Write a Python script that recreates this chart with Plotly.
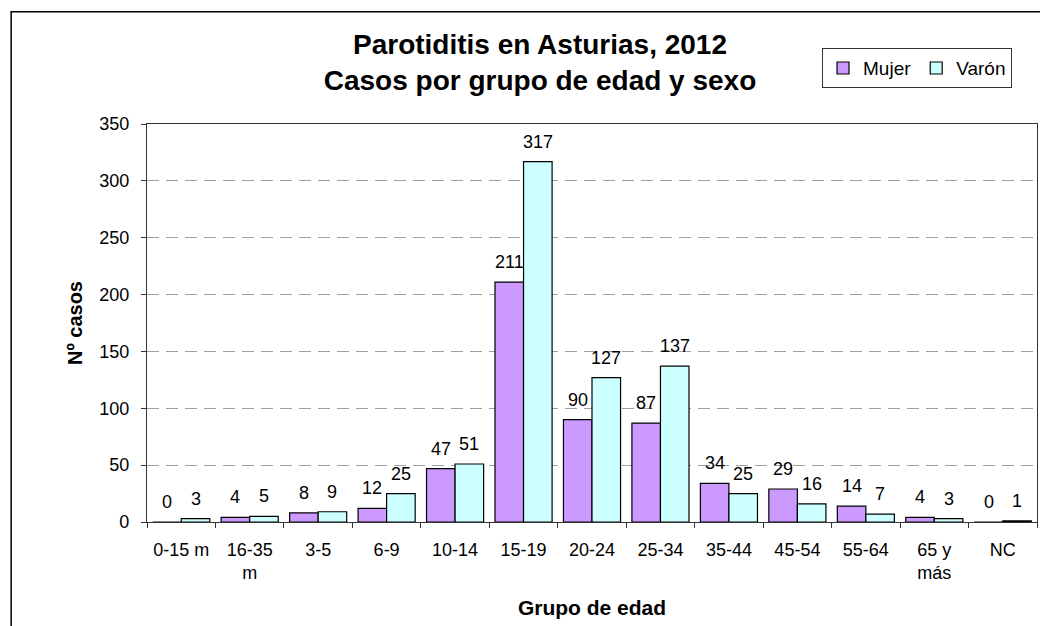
import plotly.graph_objects as go

categories = ['0-15 m', '16-35<br>m', '3-5', '6-9', '10-14', '15-19', '20-24',
              '25-34', '35-44', '45-54', '55-64', '65 y<br>más', 'NC']
mujer = [0, 4, 8, 12, 47, 211, 90, 87, 34, 29, 14, 4, 0]
varon = [3, 5, 9, 25, 51, 317, 127, 137, 25, 16, 7, 3, 1]
y_ticks = [0, 50, 100, 150, 200, 250, 300, 350]

FONT = "Liberation Sans, Arial, sans-serif"
BARGAP = 0.166
half = (1 - BARGAP) / 4  # center offset of each bar in category units

# page offset from the default body margin of the html page
OFF = 8
W, H = 1048 - OFF, 626 - OFF

fig = go.Figure()
fig.add_trace(go.Bar(name='Mujer', x=categories, y=mujer,
                     marker=dict(color='#CC99FF', line=dict(color='#000000', width=1.2))))
fig.add_trace(go.Bar(name='Varón', x=categories, y=varon,
                     marker=dict(color='#CCFFFF', line=dict(color='#000000', width=1.2))))

annotations = []
for i, (m, v) in enumerate(zip(mujer, varon)):
    for val, off in ((m, -half), (v, half)):
        annotations.append(dict(x=i + off, y=val, xref='x', yref='y', text=str(val),
                                showarrow=False, yanchor='middle', yshift=20,
                                font=dict(family=FONT, size=18, color='#000000')))

# plot area in page pixels
L, R, T, B = 147, 1038, 124, 528
pw, ph = R - L, B - T
shapes = [dict(type='rect', xref='paper', yref='paper',
               x0=(11 - L) / pw, x1=(1070 - L) / pw,
               y0=(B - 660) / ph, y1=(B - 10) / ph,
               line=dict(color='#000000', width=1.5), fillcolor='rgba(0,0,0,0)', layer='below')]

fig.update_layout(
    width=W, height=H,
    margin=dict(l=L - OFF, r=W - (R - OFF), t=T - OFF, b=H - (B - OFF), pad=0),
    paper_bgcolor='white', plot_bgcolor='white',
    barmode='group', bargap=BARGAP, bargroupgap=0,
    font=dict(family=FONT, size=18, color='#000000'),
    title=dict(text='<b>Parotiditis en Asturias, 2012<br>Casos por grupo de edad y sexo</b>',
               x=(540 - OFF) / W, xanchor='center', xref='container',
               y=1 - (54 - OFF) / H, yanchor='middle', yref='container',
               font=dict(family=FONT, size=28, color='#000000')),
    legend=dict(orientation='h', x=(1013 - L) / pw, xanchor='right',
                y=(B - 47) / ph, yanchor='top',
                bordercolor='#333333', borderwidth=1, bgcolor='white',
                font=dict(family=FONT, size=19, color='#000000'),
                itemwidth=30, tracegroupgap=0),
    showlegend=True,
    annotations=annotations,
    shapes=shapes,
    xaxis=dict(type='category', showline=True, linecolor='#333333', linewidth=1.2, mirror=True,
               ticks='outside', tickson='boundaries', ticklen=5, tickcolor='#333333',
               showgrid=False, tickfont=dict(family=FONT, size=18, color='#000000'),
               ticklabelstandoff=11,
               title=dict(text='<b>Grupo de edad</b>', standoff=18,
                          font=dict(family=FONT, size=21, color='#000000'))),
    yaxis=dict(range=[0, 350], tickvals=y_ticks, showline=True, linecolor='#333333',
               linewidth=1.2, mirror=True, ticks='outside', ticklen=5, tickcolor='#333333',
               showgrid=True, gridcolor='#A0A0A0', griddash='12px,7px', gridwidth=1,
               zeroline=False, tickfont=dict(family=FONT, size=18, color='#000000'),
               ticklabelstandoff=8,
               title=dict(text='<b>Nº casos</b>', standoff=11,
                          font=dict(family=FONT, size=20, color='#000000'))),
)

fig.write_html("out.html")
